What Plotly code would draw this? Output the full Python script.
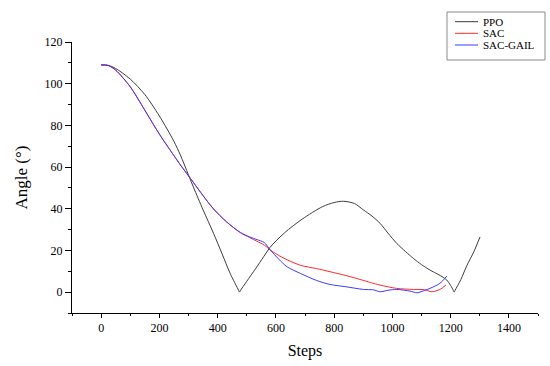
import plotly.graph_objects as go

# PPO
ppo_steps = [0, 25, 50, 100, 150, 200, 250, 272, 300, 318, 350, 386, 415, 443, 472, 475, 478,
             500, 530, 558, 580, 630, 690, 760, 800, 832, 870, 900, 930, 958, 985, 1015,
             1045, 1072, 1100, 1129, 1160, 1187, 1200, 1209, 1212, 1215, 1235, 1255, 1280, 1301]
ppo_angle = [109, 108.8, 107.3, 102.2, 94.8, 84.5, 72.3, 65.8, 56.2, 50, 39.5, 28.2, 18.5, 9, 0.9, 0, 0.7,
             5.2, 11.2, 17, 21.5, 28.5, 35, 41, 43, 43.6, 42.5, 39.5, 36.5, 33, 28.3, 23.4,
             19.5, 16.2, 13.2, 10.6, 8.3, 5.8, 3.2, 0.9, 0, 0.8, 6, 12.5, 19.5, 26.5]

# SAC
sac_steps = [0, 25, 50, 100, 150, 200, 250, 275, 300, 318, 350, 386, 430, 478, 510, 535, 560,
             581, 620, 684, 740, 786, 840, 889, 925, 958, 1015, 1072, 1110, 1135, 1163, 1184]
sac_angle = [109, 108.7, 106.5, 98.5, 87.3, 75.8, 65.5, 60.5, 55.8, 52.4, 46.3, 39.9, 33.8, 28.6, 26.2, 24.4, 22.6,
             20.2, 16.8, 12.9, 11.3, 9.8, 8, 6.1, 4.6, 3.4, 1.8, 1.3, 1.2, 0.2, 1.3, 3.4]

# SAC-GAIL
gail_steps = [0, 25, 50, 100, 150, 200, 250, 275, 300, 318, 350, 386, 430, 478, 510, 535, 560,
              581, 610, 638, 684, 740, 786, 840, 901, 935, 958, 985, 1015, 1061, 1085, 1110,
              1129, 1163, 1187]
gail_angle = [109, 108.7, 106.5, 98.5, 87.3, 75.8, 65.5, 60.5, 55.8, 52.4, 46.3, 39.9, 33.8, 28.6, 26.5, 25.2, 23.8,
              20.2, 15.8, 12.2, 9, 5.6, 3.7, 2.6, 1.3, 1.1, 0.2, 0.9, 1.3, 0.5, -0.3, 0.8,
              1.8, 4.2, 7.7]

# legend entries
legend_names = ["PPO", "SAC", "SAC-GAIL"]
colors = ["#3c3c3c", "#ff2a2a", "#3a3aff"]

font_family = "Liberation Serif"

fig = go.Figure()
series = [(ppo_steps, ppo_angle), (sac_steps, sac_angle), (gail_steps, gail_angle)]
for (xs, ys), name, c in zip(series, legend_names, colors):
    fig.add_trace(go.Scatter(x=xs, y=ys, mode="lines", name=name,
                             line=dict(color=c, width=1, shape="spline", smoothing=0.8),
                             showlegend=False))

# plot-area pixel geometry (for manual legend placement)
L, R, T, B = 72, 538, 42, 313
def px(xp):
    return (xp - L) / (R - L)
def py(yp):
    return (B - yp) / (B - T)

# legend box
fig.add_shape(type="rect", xref="paper", yref="paper",
              x0=px(447), x1=px(545), y0=py(60), y1=py(12),
              line=dict(color="#8a8a8a", width=1), fillcolor="white", layer="above")
legend_y = [21.7, 33.3, 45.0]
for name, c, yy in zip(legend_names, colors, legend_y):
    fig.add_shape(type="line", xref="paper", yref="paper",
                  x0=px(455), x1=px(478), y0=py(yy), y1=py(yy),
                  line=dict(color=c, width=1), layer="above")
    fig.add_annotation(xref="paper", yref="paper", x=px(481), y=py(yy),
                       text=name, showarrow=False, xanchor="left", yanchor="middle",
                       font=dict(family=font_family, size=11, color="black"))

axis_common = dict(showline=True, linecolor="black", linewidth=1, showgrid=False,
                   zeroline=False, ticks="outside", tickcolor="black",
                   tickfont=dict(family=font_family, size=12, color="black"),
                   mirror=False, automargin=False)

fig.update_layout(
    width=550, height=366,
    margin=dict(l=L, r=550 - R, t=T, b=366 - B),
    paper_bgcolor="white", plot_bgcolor="white",
    font=dict(family=font_family, color="black"),
    xaxis=dict(range=[-100, 1500], tickmode="linear", tick0=0, dtick=200, ticklen=4,
               title=dict(text="Steps", font=dict(family=font_family, size=16), standoff=10),
               minor=dict(dtick=100, tick0=0, ticks="outside", ticklen=2, tickcolor="black"),
               **axis_common),
    yaxis=dict(range=[-10, 120], tickmode="linear", tick0=0, dtick=20, ticklen=6,
               title=dict(text="Angle (°)", font=dict(family=font_family, size=17), standoff=12),
               minor=dict(dtick=10, tick0=0, ticks="outside", ticklen=3, tickcolor="black"),
               **axis_common),
    showlegend=False,
)

fig.write_html("out.html", config={"displayModeBar": False},
               post_script="document.body.style.margin='0';document.body.style.padding='0';")
